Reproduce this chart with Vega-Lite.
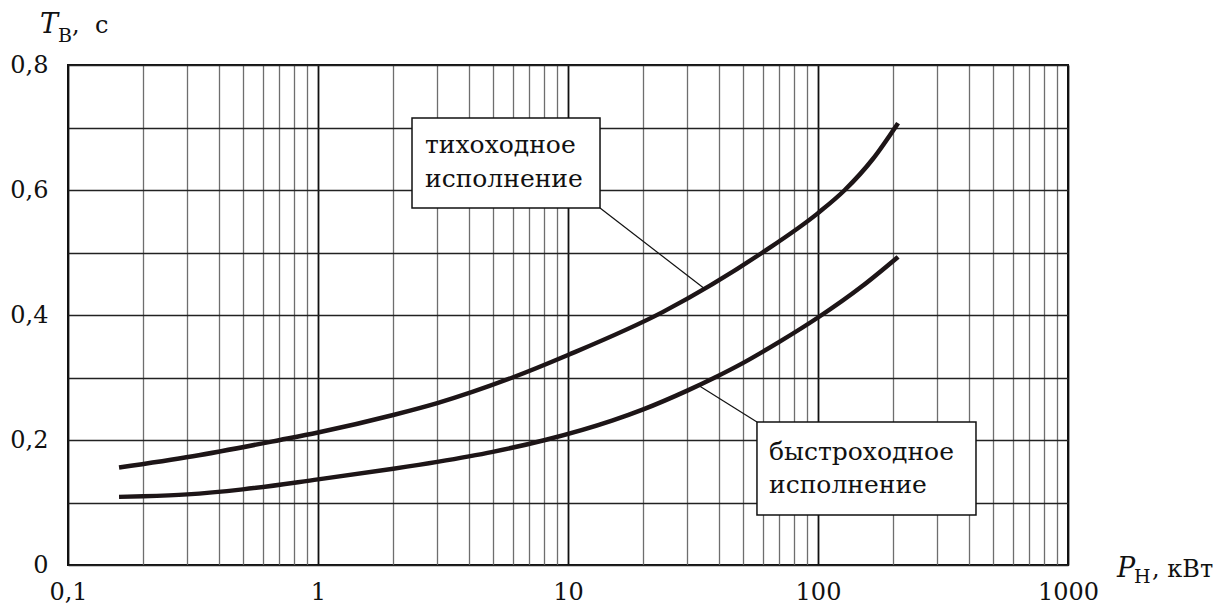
{
  "$schema": "https://vega.github.io/schema/vega-lite/v6.json",
  "width": 1000,
  "height": 500,
  "autosize": "none",
  "padding": {"left": 68, "top": 65, "right": 153, "bottom": 41},
  "background": "white",
  "config": {
    "view": {"stroke": "#111", "strokeWidth": 2},
    "font": "DejaVu Serif",
    "text": {"font": "DejaVu Serif"},
    "axis": {"labelFont": "DejaVu Serif"}
  },
  "datasets": {
    "curves": [
      {"series": "тихоходное", "x": 0.16, "y": 0.156},
      {"series": "тихоходное", "x": 0.316, "y": 0.174},
      {"series": "тихоходное", "x": 0.705, "y": 0.200},
      {"series": "тихоходное", "x": 1, "y": 0.212},
      {"series": "тихоходное", "x": 2, "y": 0.240},
      {"series": "тихоходное", "x": 3, "y": 0.259},
      {"series": "тихоходное", "x": 6, "y": 0.300},
      {"series": "тихоходное", "x": 10, "y": 0.336},
      {"series": "тихоходное", "x": 24, "y": 0.405},
      {"series": "тихоходное", "x": 60, "y": 0.500},
      {"series": "тихоходное", "x": 100, "y": 0.563},
      {"series": "тихоходное", "x": 128, "y": 0.600},
      {"series": "тихоходное", "x": 166, "y": 0.650},
      {"series": "тихоходное", "x": 209, "y": 0.707},
      {"series": "быстроходное", "x": 0.16, "y": 0.109},
      {"series": "быстроходное", "x": 0.2, "y": 0.110},
      {"series": "быстроходное", "x": 0.3, "y": 0.113},
      {"series": "быстроходное", "x": 0.5, "y": 0.121},
      {"series": "быстроходное", "x": 1, "y": 0.137},
      {"series": "быстроходное", "x": 2, "y": 0.154},
      {"series": "быстроходное", "x": 3, "y": 0.165},
      {"series": "быстроходное", "x": 5, "y": 0.181},
      {"series": "быстроходное", "x": 8.1, "y": 0.200},
      {"series": "быстроходное", "x": 15, "y": 0.231},
      {"series": "быстроходное", "x": 20, "y": 0.249},
      {"series": "быстроходное", "x": 30, "y": 0.279},
      {"series": "быстроходное", "x": 38.7, "y": 0.300},
      {"series": "быстроходное", "x": 50, "y": 0.323},
      {"series": "быстроходное", "x": 70, "y": 0.357},
      {"series": "быстроходное", "x": 100, "y": 0.396},
      {"series": "быстроходное", "x": 150, "y": 0.446},
      {"series": "быстроходное", "x": 209, "y": 0.493}
    ],
    "leaders": [
      {"id": 1, "x": 13.43, "y": 0.5712},
      {"id": 1, "x": 35.3, "y": 0.4416},
      {"id": 2, "x": 57.0, "y": 0.2288},
      {"id": 2, "x": 33.7, "y": 0.286}
    ],
    "boxes": [
      {"x": 2.377, "x2": 13.43, "y": 0.7152, "y2": 0.5712},
      {"x": 57.0, "x2": 428.5, "y": 0.2288, "y2": 0.08}
    ],
    "notes": [
      {"x": 2.679, "y": 0.6592, "text": "тихоходное"},
      {"x": 2.679, "y": 0.6048, "text": "исполнение"},
      {"x": 63.7, "y": 0.168, "text": "быстроходное"},
      {"x": 63.7, "y": 0.1152, "text": "исполнение"}
    ],
    "symbols": [
      {"x": 0.0773, "y": 0.8512, "text": "T"},
      {"x": 1570, "y": -0.0192, "text": "P"}
    ],
    "subscripts": [
      {"x": 0.0912, "y": 0.8368, "text": "В"},
      {"x": 1837, "y": -0.0288, "text": "Н"}
    ],
    "units": [
      {"x": 0.1038, "y": 0.8512, "text": ",\u00a0\u00a0с"},
      {"x": 2168, "y": -0.0192, "text": ",\u00a0кВт"}
    ]
  },
  "layer": [
    {
      "data": {"name": "curves"},
      "mark": {"type": "line", "interpolate": "monotone", "strokeWidth": 4.5, "color": "#1d1517", "strokeCap": "butt"},
      "encoding": {
        "x": {
          "field": "x", "type": "quantitative",
          "scale": {"type": "log", "domain": [0.1, 1000]},
          "axis": {
            "title": null,
            "values": [0.1,0.2,0.3,0.4,0.5,0.6,0.7,0.8,0.9,1,2,3,4,5,6,7,8,9,10,20,30,40,50,60,70,80,90,100,200,300,400,500,600,700,800,900,1000],
            "grid": true,
            "gridColor": {"condition": {"test": "datum.value==0.1||datum.value==1||datum.value==10||datum.value==100||datum.value==1000", "value": "#111"}, "value": "#6e6e6e"},
            "gridWidth": {"condition": {"test": "datum.value==0.1||datum.value==1||datum.value==10||datum.value==100||datum.value==1000", "value": 1.8}, "value": 1.3},
            "gridOpacity": 1,
            "ticks": false,
            "domain": false,
            "labelExpr": "datum.value==0.1 ? '0,1' : (datum.value==1||datum.value==10||datum.value==100||datum.value==1000) ? format(datum.value,'d') : ''",
            "labelFont": "DejaVu Serif",
            "labelFontSize": 24,
            "labelColor": "#111",
            "labelPadding": 15,
            "labelOverlap": false,
            "labelFlush": false
          }
        },
        "y": {
          "field": "y", "type": "quantitative",
          "scale": {"domain": [0, 0.8]},
          "axis": {
            "title": null,
            "values": [0,0.1,0.2,0.3,0.4,0.5,0.6,0.7,0.8],
            "grid": true,
            "gridColor": "#222",
            "gridWidth": 1.4,
            "gridOpacity": 1,
            "ticks": false,
            "domain": false,
            "labelExpr": "datum.value==0 ? '0' : (round(datum.value*10)%2==0 ? replace(format(datum.value,'.1f'),'.',',') : '')",
            "labelFont": "DejaVu Serif",
            "labelFontSize": 24,
            "labelColor": "#111",
            "labelPadding": 20,
            "labelOverlap": false,
            "labelFlush": false
          }
        },
        "detail": {"field": "series", "type": "nominal"}
      }
    },
    {
      "data": {"name": "leaders"},
      "mark": {"type": "line", "strokeWidth": 1.2, "color": "#111"},
      "encoding": {
        "x": {"field": "x", "type": "quantitative", "scale": {"type": "log", "domain": [0.1, 1000]}},
        "y": {"field": "y", "type": "quantitative", "scale": {"domain": [0, 0.8]}},
        "detail": {"field": "id", "type": "nominal"}
      }
    },
    {
      "data": {"name": "boxes"},
      "mark": {"type": "rect", "fill": "white", "stroke": "#111", "strokeWidth": 1.5},
      "encoding": {
        "x": {"field": "x", "type": "quantitative", "scale": {"type": "log", "domain": [0.1, 1000]}},
        "x2": {"field": "x2"},
        "y": {"field": "y", "type": "quantitative", "scale": {"domain": [0, 0.8]}},
        "y2": {"field": "y2"}
      }
    },
    {
      "data": {"name": "notes"},
      "mark": {"type": "text", "align": "left", "baseline": "alphabetic", "font": "DejaVu Serif", "fontSize": 25, "color": "#111"},
      "encoding": {
        "x": {"field": "x", "type": "quantitative", "scale": {"type": "log", "domain": [0.1, 1000]}},
        "y": {"field": "y", "type": "quantitative", "scale": {"domain": [0, 0.8]}},
        "text": {"field": "text"}
      }
    },
    {
      "data": {"name": "symbols"},
      "mark": {"type": "text", "align": "left", "baseline": "alphabetic", "font": "DejaVu Serif", "fontSize": 27, "fontStyle": "italic", "color": "#111"},
      "encoding": {
        "x": {"field": "x", "type": "quantitative", "scale": {"type": "log", "domain": [0.1, 1000]}},
        "y": {"field": "y", "type": "quantitative", "scale": {"domain": [0, 0.8]}},
        "text": {"field": "text"}
      }
    },
    {
      "data": {"name": "subscripts"},
      "mark": {"type": "text", "align": "left", "baseline": "alphabetic", "font": "DejaVu Serif", "fontSize": 19, "color": "#111"},
      "encoding": {
        "x": {"field": "x", "type": "quantitative", "scale": {"type": "log", "domain": [0.1, 1000]}},
        "y": {"field": "y", "type": "quantitative", "scale": {"domain": [0, 0.8]}},
        "text": {"field": "text"}
      }
    },
    {
      "data": {"name": "units"},
      "mark": {"type": "text", "align": "left", "baseline": "alphabetic", "font": "DejaVu Serif", "fontSize": 24, "color": "#111"},
      "encoding": {
        "x": {"field": "x", "type": "quantitative", "scale": {"type": "log", "domain": [0.1, 1000]}},
        "y": {"field": "y", "type": "quantitative", "scale": {"domain": [0, 0.8]}},
        "text": {"field": "text"}
      }
    }
  ]
}
